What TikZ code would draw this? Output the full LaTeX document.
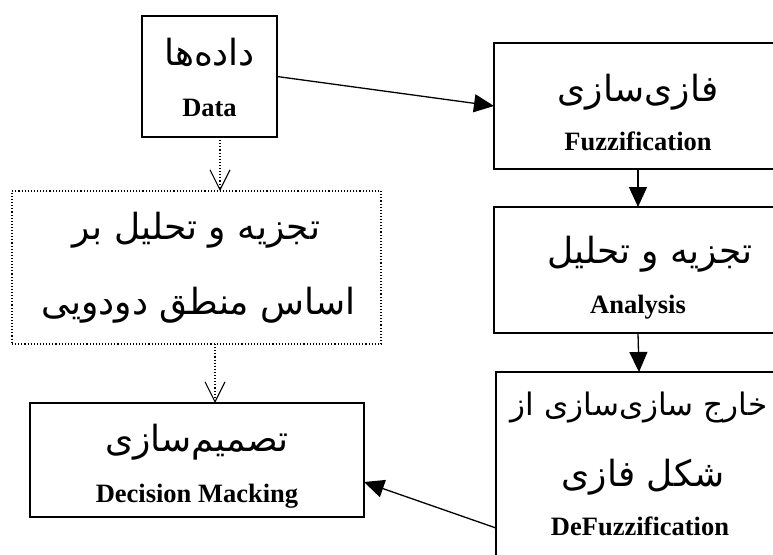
\documentclass[tikz,border=0pt]{standalone}
\usepackage{fontspec}
\setmainfont{Liberation Serif}
\newfontfamily\arabicfont[Script=Arabic]{DejaVu Sans}
\TeXXeTstate=1
\usetikzlibrary{arrows.meta}
\tikzset{
  box/.style={draw, line width=1.6pt, inner sep=0pt, outer sep=0pt},
  dotbox/.style={draw, dotted, line width=1.1pt, inner sep=0pt, outer sep=0pt},
  solidarrow/.style={line width=1.3pt, -{Triangle[length=20pt,width=18pt]}},
  dotarrow/.style={dotted, line width=1.1pt, -{Straight Barb[length=20pt,width=20pt,line width=1.1pt]}},
  fa/.style={font=\arabicfont\fontsize{36}{40}\selectfont, inner sep=0pt, anchor=base},
  fasmall/.style={font=\arabicfont\fontsize{31}{36}\selectfont, inner sep=0pt, anchor=base},
  en/.style={font=\bfseries\fontsize{26.5}{30}\selectfont, inner sep=0pt, anchor=base},
}
\begin{document}
\begin{tikzpicture}[x=1pt,y=-1pt]
\clip (0,0) rectangle (773,554);
\fill[white] (0,0) rectangle (773,554);
% boxes
\node[box, minimum width=135pt, minimum height=121pt] (data) at (209.5,76.5) {};
\node[box, minimum width=288pt, minimum height=126pt] (fuzz) at (638,106) {};
\node[box, minimum width=288pt, minimum height=126pt] (anal) at (638,270) {};
\node[box, minimum width=286pt, minimum height=208pt] (defuzz) at (639,476) {};
\node[dotbox, minimum width=369pt, minimum height=153pt] (logic) at (196.5,267.5) {};
\node[box, minimum width=334pt, minimum height=114pt] (dec) at (197,460) {};
% texts
\node[fa] (t1) at (209.5,65) {\beginR داده‌ها\endR};
\node[en] (t2) at (209.5,116) {Data};
\node[fa] (t3) at (638,101) {\beginR فازی‌سازی\endR};
\node[en] (t4) at (638,150) {Fuzzification};
\node[fa] (t5) at (650,263) {\beginR تجزیه و تحلیل\endR};
\node[en] (t6) at (638,313) {Analysis};
\node[fasmall] (t7) at (639,415) {\beginR خارج سازی‌سازی از\endR};
\node[fa] (t8) at (643,486) {\beginR شکل فازی\endR};
\node[en] (t9) at (640,535) {DeFuzzification};
\node[fa] (t10) at (196.5,239) {\beginR تجزیه و تحلیل بر\endR};
\node[fa] (t11) at (198.5,314) {\beginR اساس منطق دودویی\endR};
\node[fa] (t12) at (197,451) {\beginR تصمیم‌سازی\endR};
\node[en] (t13) at (197,502) {Decision Macking};
% connectors
\draw[solidarrow] (data.east) -- (fuzz.west);
\draw[solidarrow] (fuzz.south) -- (anal.north);
\draw[solidarrow] (anal.south) -- (defuzz.north);
\draw[solidarrow] ([yshift=-52pt]defuzz.west) -- ([yshift=-22pt]dec.east);
\draw[dotarrow] ([xshift=10.5pt]data.south) -- ([xshift=23.5pt]logic.north);
\draw[dotarrow] ([xshift=18.5pt]logic.south) -- ([xshift=18pt]dec.north);
\end{tikzpicture}
\end{document}
